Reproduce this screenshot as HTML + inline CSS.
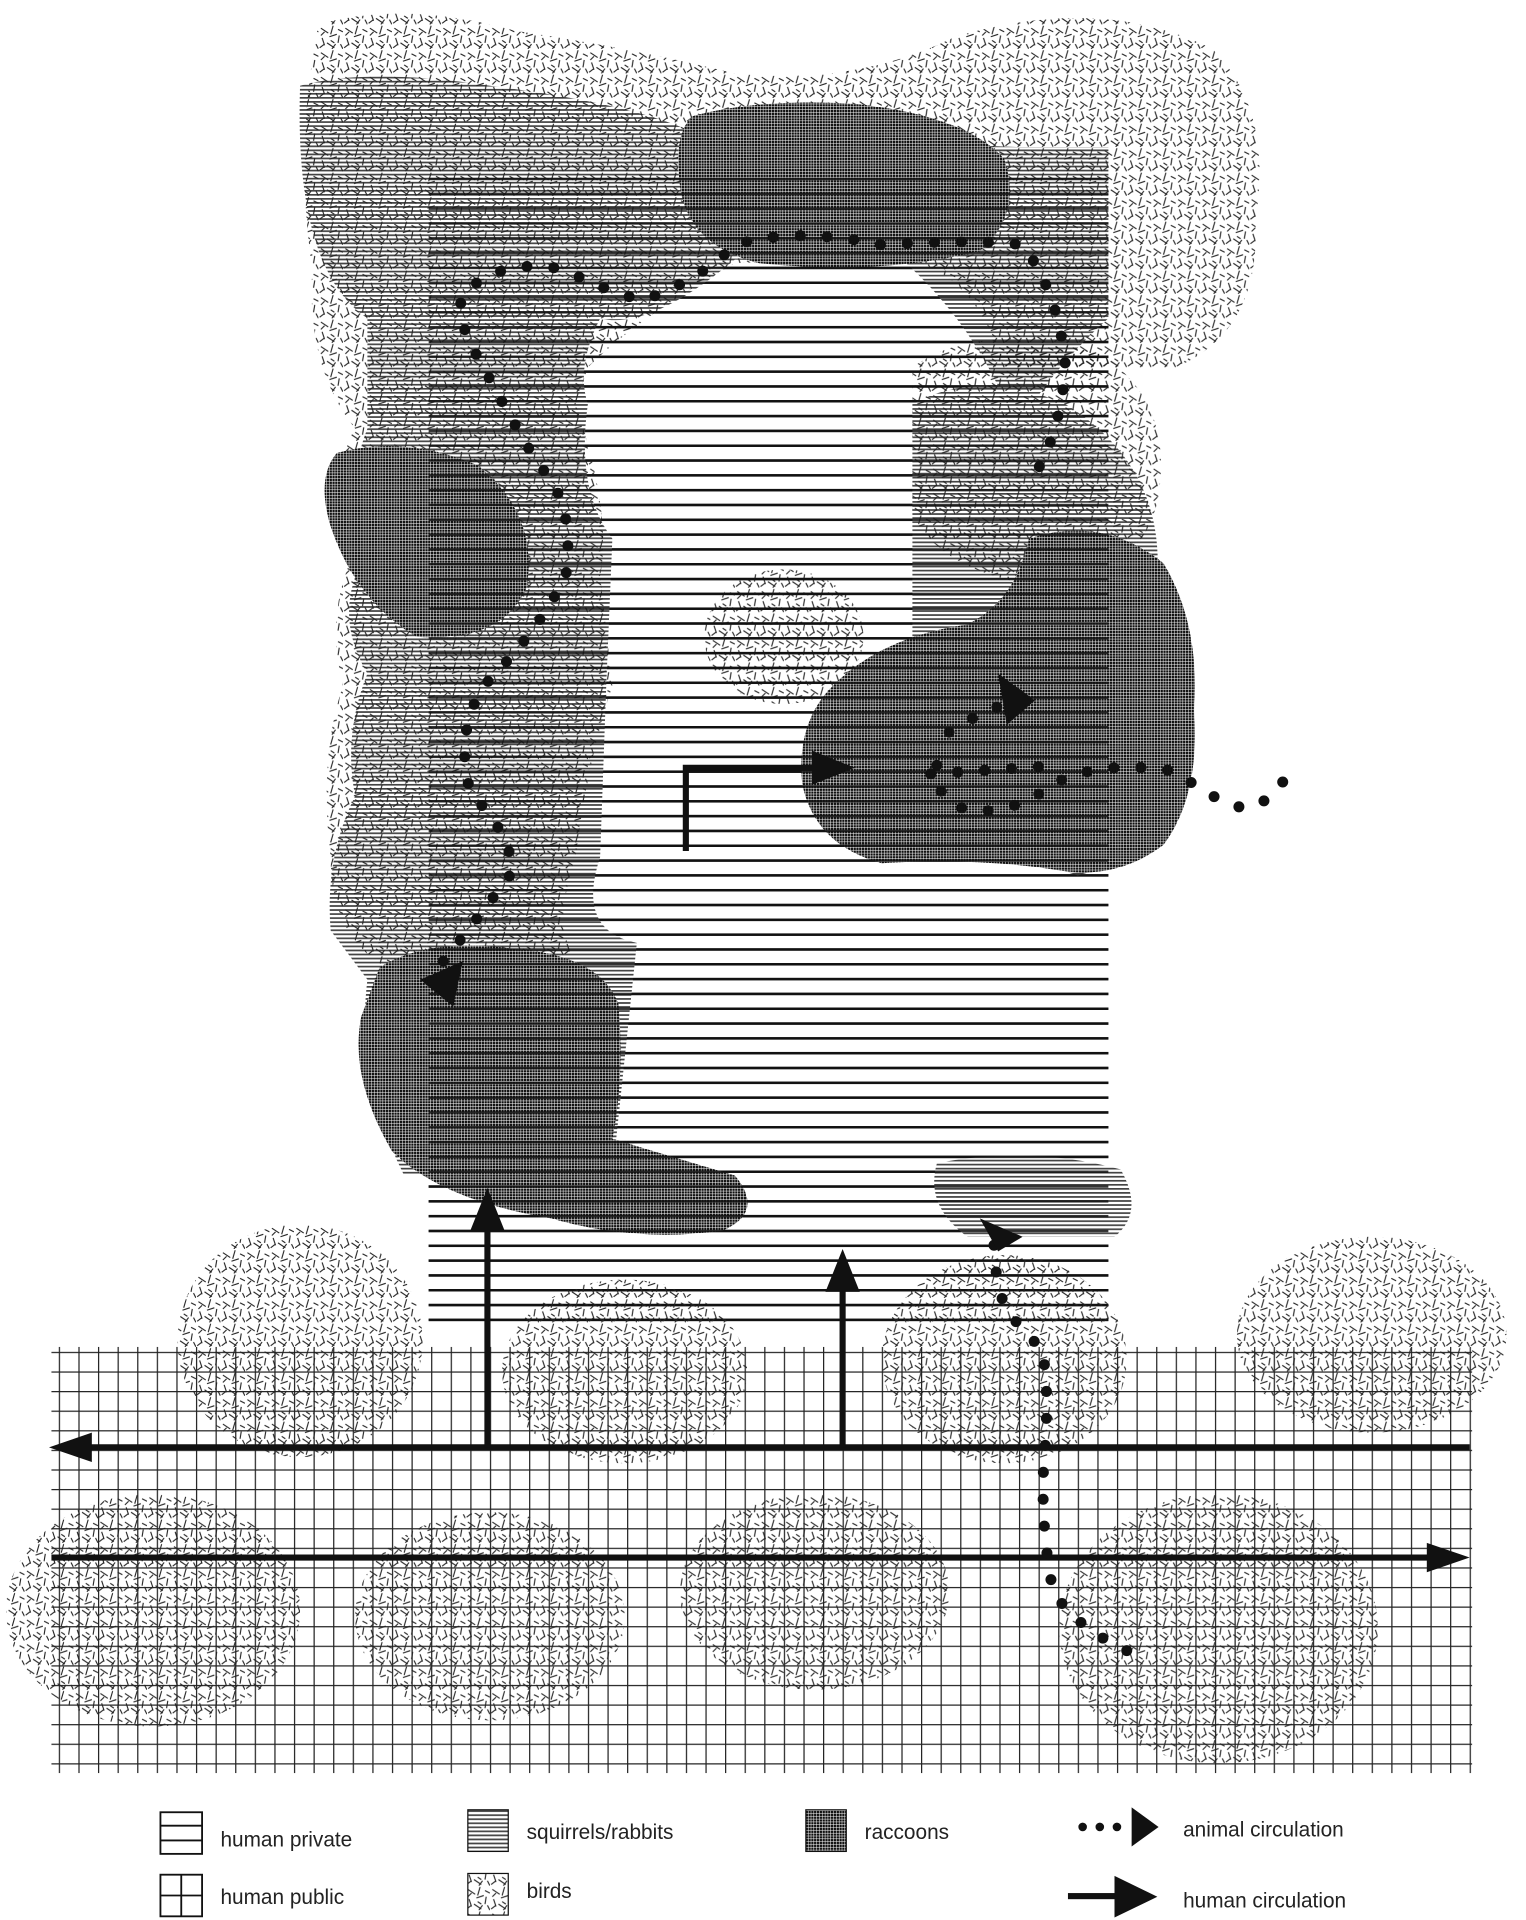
<!DOCTYPE html>
<html><head><meta charset="utf-8"><style>
html,body{margin:0;padding:0;background:#fff;}
svg{display:block;}
</style></head><body>
<svg width="1526" height="1920" viewBox="0 0 1246 1568" preserveAspectRatio="none" xmlns="http://www.w3.org/2000/svg">
<defs>
<pattern id="priv" width="12" height="12.1" patternUnits="userSpaceOnUse"><rect y="0" width="12" height="2" fill="#111"/></pattern>
<pattern id="pub" width="16" height="16" patternUnits="userSpaceOnUse"><path d="M0 0.5H16M0.5 0V16" stroke="#222" stroke-width="1"/></pattern>
<pattern id="sq" width="10" height="3.3" patternUnits="userSpaceOnUse"><rect width="10" height="3.3" fill="#fff"/><rect width="10" height="1.4" fill="#444"/></pattern>
<pattern id="rac" width="2.3" height="2.3" patternUnits="userSpaceOnUse"><rect width="2.3" height="2.3" fill="#fff"/><rect width="1.9" height="1.9" fill="#111"/></pattern>
<pattern id="bird" width="20" height="20" patternUnits="userSpaceOnUse">
<g stroke="#222" stroke-width="0.9">
<path d="M2 3l6 4M12 1l-2 7M16 4l4 2M3 11l2 6M9 10l6 -2M17 9l-1 6M7 15l6 4M1 19l4 -3M14 16l-3 4M18 16l2 4M10 13l3 2M5 6l-3 3"/>
</g></pattern>
<clipPath id="privclip"><rect x="350" y="137" width="555" height="948"/></clipPath>
</defs>

<!-- private -->
<rect x="350" y="137" width="555" height="948" fill="url(#priv)"/>

<!-- squirrels -->
<g fill="url(#sq)">
<path d="M245 70 Q300 55 400 70 Q520 85 570 110 L830 120 L905 120 L905 260 Q860 300 830 350 Q800 270 740 215 L600 212 Q530 270 490 260 Q470 300 480 330 Q470 400 500 440 L495 560 L490 700 Q470 760 520 770 L500 960 L330 960 Q290 880 300 800 L270 760 Q265 700 290 650 Q280 600 300 550 Q270 500 300 450 Q280 400 300 350 L300 260 Q240 220 245 70 Z"/>
<path d="M745 330 Q800 300 870 330 Q950 380 945 470 L945 560 L960 640 Q940 700 880 715 L800 690 L745 560 Z"/>
<path d="M765 950 Q840 935 915 955 Q935 990 910 1010 L790 1010 Q755 985 765 950 Z"/>
</g>
<!-- birds upper -->
<g fill="url(#bird)">
<path d="M260 20 Q330 0 420 25 Q520 40 600 60 Q700 70 780 30 Q900 -5 990 40 Q1040 90 1025 180 Q1030 270 960 300 L820 300 Q790 200 700 210 L600 215 Q520 260 480 300 L470 330 Q500 420 490 470 L500 560 Q480 620 470 700 Q450 760 470 780 L340 800 Q270 780 270 700 Q260 620 280 560 Q265 500 290 450 Q270 380 290 350 Q250 300 255 220 Q240 120 260 20 Z"/>
<path d="M745 300 Q800 260 900 290 Q960 330 945 410 Q930 470 860 480 Q770 470 745 420 Z"/>
<ellipse cx="640" cy="520" rx="65" ry="55"/>
</g>
<!-- raccoons -->
<g fill="url(#rac)">
<path d="M565 95 Q620 80 700 85 Q790 95 820 130 Q835 175 800 205 Q720 225 620 215 Q560 200 555 150 Q550 110 565 95 Z"/>
<path d="M275 370 Q330 355 390 380 Q440 420 430 480 Q410 525 340 520 Q290 490 270 430 Q258 390 275 370 Z"/>
<path d="M310 790 Q350 765 420 775 Q490 780 505 820 Q510 880 500 930 L600 960 Q625 990 590 1005 Q520 1015 450 995 Q360 980 320 940 Q285 880 295 830 Z"/>
<path d="M840 440 Q900 420 950 460 Q980 510 975 580 Q980 650 950 690 Q910 720 860 710 Q790 700 720 705 Q665 690 655 640 Q650 590 680 560 Q720 520 790 510 Q830 490 840 440 Z"/>
</g>
<!-- private lines through everything -->
<rect x="350" y="137" width="555" height="948" fill="url(#priv)" opacity="0.85"/>

<!-- public grid -->
<rect x="42" y="1100" width="1160" height="348" fill="url(#pub)"/>
<!-- birds lower -->
<g fill="url(#bird)">
<ellipse cx="245" cy="1095" rx="100" ry="95"/>
<ellipse cx="510" cy="1120" rx="100" ry="75"/>
<ellipse cx="820" cy="1110" rx="100" ry="85"/>
<ellipse cx="1120" cy="1090" rx="110" ry="80"/>
<ellipse cx="125" cy="1315" rx="120" ry="95"/>
<ellipse cx="400" cy="1320" rx="110" ry="85"/>
<ellipse cx="665" cy="1300" rx="110" ry="80"/>
<ellipse cx="995" cy="1330" rx="130" ry="110"/>
</g>

<!-- human circulation -->
<g stroke="#111" stroke-width="5" fill="none">
<line x1="60" y1="1182" x2="1200" y2="1182"/>
<line x1="42" y1="1272" x2="1180" y2="1272"/>
<line x1="398" y1="1182" x2="398" y2="995"/>
<line x1="688" y1="1182" x2="688" y2="1045"/>
<polyline points="560,695 560,627 670,627"/>
</g>
<g fill="#111">
<polygon points="40,1182 75,1170 75,1194"/>
<polygon points="1200,1272 1165,1260 1165,1284"/>
<polygon points="398,970 384,1005 412,1005"/>
<polygon points="688,1020 674,1055 702,1055"/>
<polygon points="698,627 663,613 663,641"/>
</g>

<!-- animal circulation -->
<g stroke="#111" stroke-width="9" stroke-linecap="round" fill="none" stroke-dasharray="0 22">
<path d="M362 785 Q390 750 420 710 Q410 670 385 650 Q370 600 395 560 Q440 515 462 470 Q470 410 440 380 Q410 330 395 300 Q370 260 378 240 Q410 210 460 220 Q500 240 525 245 Q570 230 600 200 Q650 185 720 200 Q800 195 835 200 Q865 240 870 300 Q865 360 840 395"/>
<path d="M775 598 Q795 585 815 577"/>
<path d="M765 625 Q760 650 790 662 Q830 665 860 640 Q900 620 960 630 Q1000 660 1020 660 Q1045 650 1050 632"/>
<path d="M760 632 Q820 628 865 625"/>
<path d="M920 1348 Q880 1330 860 1300 Q850 1250 852 1200 Q858 1130 850 1100 Q830 1085 818 1060 Q810 1030 812 1010"/>
</g>
<g fill="#111">
<polygon points="845,572 815,550 822,592"/>
<polygon points="343,800 378,785 370,822"/>
<polygon points="800,995 835,1010 815,1022"/>
</g>

<!-- legend -->
<g stroke="#111" fill="none" stroke-width="1.5">
<rect x="131" y="1480" width="34" height="34"/><line x1="131" y1="1491" x2="165" y2="1491"/><line x1="131" y1="1503" x2="165" y2="1503"/>
<rect x="131" y="1531" width="34" height="34"/><line x1="131" y1="1548" x2="165" y2="1548"/><line x1="148" y1="1531" x2="148" y2="1565"/>
</g>
<rect x="382" y="1478" width="33" height="34" fill="url(#sq)" stroke="#111"/>
<rect x="382" y="1530" width="33" height="34" fill="url(#bird)" stroke="#111"/>
<rect x="658" y="1478" width="33" height="34" fill="url(#rac)" stroke="#111"/>
<g fill="#111"><circle cx="884" cy="1492" r="3.5"/><circle cx="898" cy="1492" r="3.5"/><circle cx="912" cy="1492" r="3.5"/>
<polygon points="924,1476 946,1492 924,1508"/>
<rect x="872" y="1546" width="40" height="5"/><polygon points="910,1532 945,1549 910,1566"/></g>
<g font-family="Liberation Sans, sans-serif" font-size="17" fill="#222">
<text x="180" y="1508">human private</text>
<text x="180" y="1555">human public</text>
<text x="430" y="1502">squirrels/rabbits</text>
<text x="430" y="1550">birds</text>
<text x="706" y="1502">raccoons</text>
<text x="966" y="1500">animal circulation</text>
<text x="966" y="1558">human circulation</text>
</g>
</svg>
</body></html>
